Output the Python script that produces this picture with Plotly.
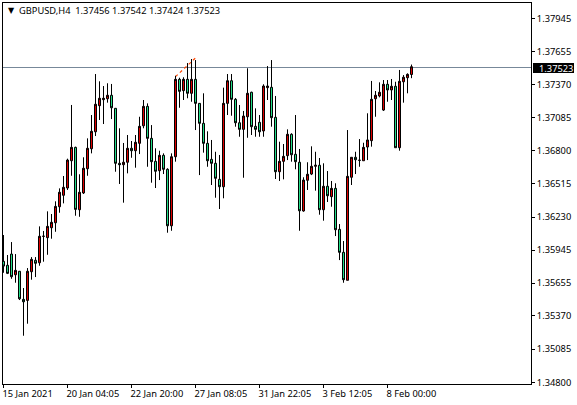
import plotly.graph_objects as go

# GBPUSD H4 candles
opens = [1.35838, 1.35804, 1.35901, 1.35722, 1.35752, 1.35509, 1.35500, 1.35748, 1.35847, 1.35826,
         1.36055, 1.36043, 1.36129, 1.36172, 1.36311, 1.36410, 1.36473, 1.36709, 1.36825, 1.36285,
         1.36430, 1.36640, 1.36813, 1.36960, 1.37186, 1.37238, 1.37246, 1.37276, 1.37163, 1.36687,
         1.36675, 1.36696, 1.36817, 1.36796, 1.36860, 1.37012, 1.37180, 1.36903, 1.36704, 1.36623,
         1.36756, 1.36635, 1.36146, 1.36744, 1.37414, 1.37316, 1.37414, 1.37293, 1.37414, 1.37206,
         1.37033, 1.36860, 1.36721, 1.36687, 1.36548, 1.36484, 1.37206, 1.37402, 1.37241, 1.37038,
         1.36981, 1.37090, 1.37302, 1.37007, 1.37042, 1.36967, 1.37342, 1.37345, 1.37085, 1.36614,
         1.36704, 1.36753, 1.36938, 1.36765, 1.36696, 1.36274, 1.36540, 1.36594, 1.36661, 1.36670,
         1.36285, 1.36488, 1.36398, 1.36470, 1.36115, 1.35916, 1.35674, 1.36566, 1.36739, 1.36713,
         1.36709, 1.36828, 1.36883, 1.37246, 1.37270, 1.37148, 1.37371, 1.37322, 1.37354, 1.36822,
         1.37393, 1.37428, 1.37456]
highs = [1.36066, 1.35893, 1.36005, 1.35901, 1.35754, 1.35607, 1.35780, 1.35875, 1.35875, 1.36141,
         1.36101, 1.36271, 1.36248, 1.36358, 1.36470, 1.36577, 1.36727, 1.37192, 1.36831, 1.36592,
         1.36739, 1.36903, 1.37105, 1.37460, 1.37397, 1.37356, 1.37380, 1.37374, 1.37166, 1.36990,
         1.36863, 1.36932, 1.36880, 1.36932, 1.37090, 1.37235, 1.37206, 1.37018, 1.36817, 1.36796,
         1.36773, 1.36644, 1.36773, 1.37445, 1.37428, 1.37432, 1.37555, 1.37590, 1.37581, 1.37209,
         1.37293, 1.36964, 1.36889, 1.36787, 1.36759, 1.37342, 1.37460, 1.37460, 1.37252, 1.37192,
         1.37140, 1.37510, 1.37307, 1.37163, 1.37105, 1.37371, 1.37529, 1.37581, 1.37270, 1.36874,
         1.36854, 1.36981, 1.36947, 1.37105, 1.36811, 1.36566, 1.36696, 1.36834, 1.36787, 1.36733,
         1.36687, 1.36620, 1.36534, 1.36514, 1.36161, 1.36014, 1.36975, 1.36741, 1.36787, 1.36897,
         1.36865, 1.37120, 1.37400, 1.37313, 1.37388, 1.37408, 1.37408, 1.37417, 1.37393, 1.37495,
         1.37451, 1.37466, 1.37542]
lows = [1.35739, 1.35728, 1.35687, 1.35653, 1.35503, 1.35194, 1.35298, 1.35679, 1.35702, 1.35800,
        1.35835, 1.35895, 1.36034, 1.36094, 1.36259, 1.36340, 1.36456, 1.36579, 1.36233, 1.36224,
        1.36421, 1.36579, 1.36773, 1.36923, 1.37062, 1.37027, 1.37212, 1.37070, 1.36614, 1.36508,
        1.36346, 1.36600, 1.36735, 1.36649, 1.36767, 1.36990, 1.36657, 1.36519, 1.36473, 1.36542,
        1.36594, 1.36086, 1.36103, 1.36701, 1.37168, 1.37235, 1.37250, 1.37220, 1.36975, 1.36585,
        1.36779, 1.36657, 1.36499, 1.36389, 1.36291, 1.36384, 1.37105, 1.37099, 1.37004, 1.36917,
        1.36562, 1.36908, 1.36932, 1.36917, 1.36917, 1.36917, 1.37235, 1.37004, 1.36551, 1.36534,
        1.36548, 1.36715, 1.36701, 1.36635, 1.36103, 1.36268, 1.36456, 1.36585, 1.36450, 1.36242,
        1.36190, 1.36352, 1.36311, 1.36057, 1.35849, 1.35653, 1.35674, 1.36499, 1.36594, 1.36657,
        1.36709, 1.36715, 1.36831, 1.37090, 1.37258, 1.37140, 1.37220, 1.37235, 1.36822, 1.36796,
        1.37212, 1.37293, 1.37424]
closes = [1.35797, 1.35734, 1.35705, 1.35760, 1.35514, 1.35488, 1.35752, 1.35855, 1.35821, 1.36055,
          1.36055, 1.36141, 1.36176, 1.36314, 1.36436, 1.36479, 1.36715, 1.36825, 1.36288, 1.36436,
          1.36644, 1.36817, 1.36964, 1.37198, 1.37250, 1.37250, 1.37276, 1.37168, 1.36687, 1.36675,
          1.36696, 1.36817, 1.36796, 1.36869, 1.37007, 1.37180, 1.36903, 1.36701, 1.36618, 1.36756,
          1.36635, 1.36146, 1.36744, 1.37414, 1.37310, 1.37414, 1.37293, 1.37414, 1.37206, 1.37033,
          1.36860, 1.36709, 1.36687, 1.36557, 1.36484, 1.37206, 1.37402, 1.37241, 1.37038, 1.36981,
          1.37096, 1.37293, 1.37004, 1.36981, 1.36960, 1.37356, 1.37356, 1.37082, 1.36614, 1.36704,
          1.36747, 1.36938, 1.36761, 1.36701, 1.36276, 1.36542, 1.36592, 1.36661, 1.36670, 1.36285,
          1.36488, 1.36406, 1.36470, 1.36112, 1.35916, 1.35679, 1.36574, 1.36739, 1.36718, 1.36713,
          1.36825, 1.36889, 1.37241, 1.37276, 1.37302, 1.37371, 1.37322, 1.37354, 1.36822, 1.37397,
          1.37432, 1.37457, 1.37523]

x_tick_pos = [0, 16, 32, 48, 64, 80, 96]
x_tick_text = ["15 Jan 2021", "20 Jan 04:05", "22 Jan 20:00", "27 Jan 08:05",
               "31 Jan 22:05", "3 Feb 12:05", "8 Feb 00:00"]
y_tick_text = ["1.37945", "1.37655", "1.37370", "1.37085", "1.36800", "1.36515",
               "1.36230", "1.35945", "1.35655", "1.35370", "1.35085", "1.34800"]
# where those ticks sit against the candles
y_tick_pos = [1.37941, 1.37651, 1.37369, 1.37084, 1.36798, 1.36512,
              1.36222, 1.35936, 1.35650, 1.35365, 1.35079, 1.34789]

trend_x = [43, 48]
trend_y = [1.37437, 1.37599]

price_line = 1.375165
last_price = closes[-1]
header = "GBPUSD,H4  1.37456 1.37542 1.37424 1.37523"

font = "Noto Sans"
font_size = 9.3
W, H = 577, 405
L, R, T, B = 3, 46, 3, 21


def px(x):
    return (x - L) / (W - L - R)


def py(y):
    return 1 - (y - T) / (H - T - B)


fig = go.Figure(go.Candlestick(
    x=list(range(len(opens))),
    open=opens, high=highs, low=lows, close=closes,
    increasing=dict(fillcolor="#dd0000", line=dict(color="black", width=1)),
    decreasing=dict(fillcolor="#22dd88", line=dict(color="black", width=1)),
    whiskerwidth=0,
    showlegend=False,
))

fig.update_layout(
    width=W, height=H,
    margin=dict(l=L, r=R, t=T, b=B, autoexpand=False),
    paper_bgcolor="white", plot_bgcolor="white",
    font=dict(family=font, size=font_size, color="black"),
    boxgap=0.5, boxgroupgap=0,
    showlegend=False,
)

fig.update_xaxes(
    range=[-0.125, 131.875], rangeslider_visible=False,
    tickmode="array", tickvals=x_tick_pos, ticktext=x_tick_text,
    ticks="outside", ticklen=3, tickwidth=1, tickcolor="black",
    ticklabelposition="outside right", ticklabelshift=-2, ticklabelstandoff=1, tickangle=0,
    showgrid=False, zeroline=False,
    showline=True, linecolor="black", linewidth=1, mirror=True,
)
fig.update_yaxes(
    range=[1.34776, 1.38075], side="right",
    tickmode="array", tickvals=y_tick_pos, ticktext=y_tick_text,
    ticks="outside", ticklen=3, tickwidth=1, tickcolor="black",
    showgrid=False, zeroline=False,
    showline=True, linecolor="black", linewidth=1, mirror=True,
)

# current price line and the dashed trend line, both behind the candles
fig.add_shape(type="line", layer="below", xref="paper", yref="y",
              x0=0, x1=1, y0=price_line, y1=price_line,
              line=dict(color="#778899", width=1))
fig.add_shape(type="line", layer="below", xref="x", yref="y",
              x0=trend_x[0], x1=trend_x[1], y0=trend_y[0], y1=trend_y[1],
              line=dict(color="#ff4500", width=1.2, dash="3px,3px"))

# black price tag on the axis
fig.add_shape(type="rect", xref="paper", yref="paper", layer="above",
              x0=px(533), x1=px(574), y0=py(73), y1=py(63),
              fillcolor="black", line=dict(width=0))
fig.add_annotation(xref="paper", yref="paper", x=px(537), y=py(68),
                   xanchor="left", yanchor="middle", showarrow=False,
                   text="%.5f" % last_price, font=dict(color="white", size=font_size, family=font))

# header
fig.add_annotation(xref="paper", yref="paper", x=px(6), y=py(10.5),
                   xanchor="left", yanchor="middle", showarrow=False,
                   text="▼", font=dict(size=8, family="DejaVu Sans"))
fig.add_annotation(xref="paper", yref="paper", x=px(17), y=py(10.5),
                   xanchor="left", yanchor="middle", showarrow=False,
                   text=header.replace("  ", "&nbsp;&nbsp;"), font=dict(size=font_size, family=font))

# the page's default body margin would push the chart off the window
fig.write_html("out.html", config=dict(displayModeBar=False),
               post_script="document.body.style.margin='0';")
